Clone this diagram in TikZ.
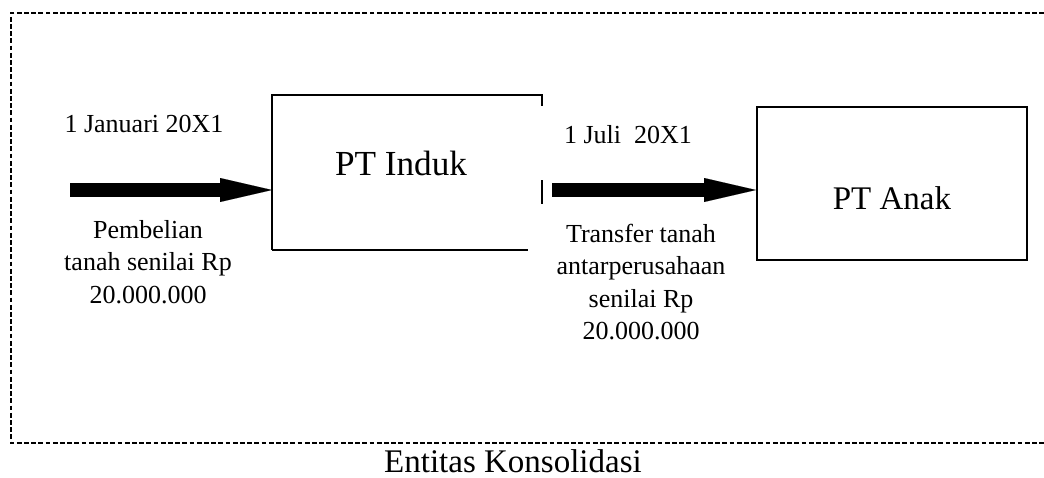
\documentclass[tikz,border=0pt]{standalone}
\usepackage{fontspec}
\setmainfont{Liberation Serif}
\usetikzlibrary{arrows.meta}
\tikzset{
  frame/.style={line width=1.2pt, dash pattern=on 2.4pt off 1.2pt},
  boxline/.style={line width=1pt},
  bigarrow/.style={line width=7pt, -{Triangle[length=26pt,width=12pt,line width=0.01pt]}},
  smalltext/.style={inner sep=0pt, align=center, font=\fontsize{13pt}{16.3pt}\selectfont},
  bigtext/.style={inner sep=0pt, font=\fontsize{16.5pt}{19pt}\selectfont},
}
\begin{document}
\begin{tikzpicture}[x=0.5pt, y=-0.5pt]
  \useasboundingbox (0,0) rectangle (1044,477);

  % consolidated entity frame (open on the right)
  \draw[frame] (1044,13) -- (11,13) -- (11,443) -- (1044,443);

  % parent company box, partly covered by the text blocks beside it
  \coordinate (iNW) at (272,95);
  \coordinate (iSE) at (541.5,249.5);
  \draw[boxline] (iSE -| iNW) -- (iNW) -- (iNW -| iSE) -- ++(0,11);
  \draw[boxline] (541.5,180) -- (541.5,204);
  \draw[boxline] (iSE -| iNW) -- (528,249.5);
  \node[bigtext, font=\fontsize{17.6pt}{20pt}\selectfont] (induk) at (401,163) {PT Induk};

  % subsidiary box
  \node[boxline, draw, minimum width=135pt, minimum height=76.5pt, inner sep=0pt] (anak) at (892,183.5) {};
  \node[bigtext] (anaklbl) at (892,198) {PT Anak};

  % arrows
  \coordinate (a1) at (70,190);
  \coordinate (a2) at (552,190);
  \draw[bigarrow] (a1) -- (a1 -| iNW);
  \draw[bigarrow] (a2) -- (a2 -| anak.west);

  % labels
  \node[smalltext] (d1) at (144,124) {1 Januari 20X1};
  \node[smalltext] (t1) at (148,262) {Pembelian\\tanah senilai Rp\\20.000.000};
  \node[smalltext] (d2) at (628,135) {1 Juli\ \ 20X1};
  \node[smalltext] (t2) at (641,282) {Transfer tanah\\antarperusahaan\\senilai Rp\\20.000.000};
  \node[bigtext] (ent) at (513,461) {Entitas Konsolidasi};
\end{tikzpicture}
\end{document}
